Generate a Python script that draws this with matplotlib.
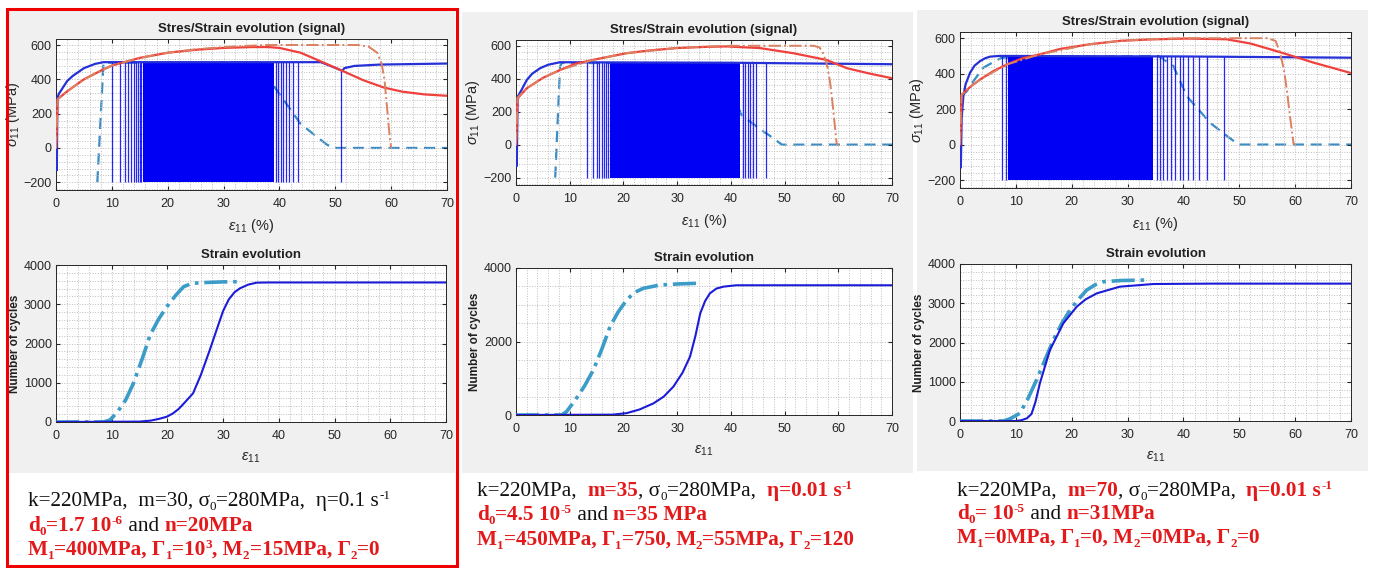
import matplotlib
matplotlib.use('Agg')
import matplotlib.pyplot as plt
from matplotlib.patches import Rectangle
from matplotlib.ticker import MultipleLocator

# ---------------- data ----------------
# panel 1 : stress / strain
p1_load_x = [0, 0.15, 0.25, 0.5, 1, 2, 3, 5, 7, 8.5, 47.4, 49, 51.3, 51.6, 53.4, 58, 70]
p1_load_y = [0, -130, 290, 315, 340, 390, 420, 465, 490, 500, 500, 480, 449, 465, 478, 486, 492]
p1_red_x = [0, 0.3, 0.6, 2, 5, 8, 10, 15, 20, 25, 30, 35, 38, 40, 43.8, 47, 51.3, 55, 58.7, 62, 66, 70]
p1_red_y = [0, 285, 292, 330, 400, 450, 480, 525, 555, 572, 583, 588, 588, 583, 555, 510, 449, 395, 352, 328, 312, 304]
p1_dd_x = [0, 0.3, 2, 5, 8, 10, 15, 20, 25, 30, 34, 38, 54, 56, 57.5, 58.3, 58.8, 59.1, 59.5, 59.8, 60]
p1_dd_y = [0, 285, 330, 400, 450, 480, 525, 555, 575, 588, 595, 600, 600, 590, 555, 490, 400, 295, 150, 50, 0]
p1_dash_x = [7.4, 8.5, 36, 39.6, 43.8, 48.3, 49.5, 70]
p1_dash_y = [-200, 497, 497, 333, 140, 24, 0, 0]
p1_spikes = [10.1, 11.5, 12.3, 12.9, 13.4, 13.9, 14.3, 14.7, 15.0, 15.3,
             39.4, 39.8, 40.2, 40.7, 41.2, 41.8, 42.4, 43.4]
p1_band = (15.6, 39.0)
p1_late_spike = 51.0
p1_late_top = 449

# panel 1 : strain evolution
p1_cyc_dd_x = [0, 8.5, 9.7, 11, 12.5, 13.9, 15.5, 16.9, 18.5, 19.9, 21.5, 22.9, 24.4, 27, 30, 33]
p1_cyc_dd_y = [0, 0, 51, 250, 560, 986, 1620, 2220, 2640, 2938, 3230, 3447, 3533, 3555, 3570, 3575]
p1_cyc_x = [0, 15, 17, 18.5, 19.9, 21, 22, 23, 24.6, 26, 27.6, 29, 30, 31, 32, 33, 34.5, 36, 38, 70]
p1_cyc_y = [0, 10, 35, 80, 135, 220, 330, 480, 731, 1200, 1834, 2420, 2830, 3120, 3300, 3405, 3500, 3550, 3555, 3555]

# panel 2 : stress / strain
p2_load_x = [0, 0.15, 0.3, 1, 2, 3, 4.5, 6, 8.2, 40, 70]
p2_load_y = [0, -130, 290, 330, 392, 430, 464, 485, 500, 497, 488]
p2_red_x = [0, 0.3, 0.6, 2, 5, 8.2, 11, 14.4, 20.6, 25, 29.9, 35, 39.2, 45.4, 51.6, 57.8, 61.6, 66, 70]
p2_red_y = [0, 285, 292, 342, 405, 453, 490, 515, 555, 572, 586, 593, 596, 586, 555, 514, 464, 430, 403]
p2_dd_x = [0, 0.3, 2, 5, 8.2, 14.4, 20.6, 29.9, 35, 40, 55.4, 56.5, 57.2, 58, 58.5, 59, 59.4, 59.7, 60]
p2_dd_y = [0, 285, 342, 405, 453, 515, 555, 586, 595, 600, 600, 590, 555, 470, 372, 230, 100, 5, 0]
p2_dash_x = [7.3, 8.2, 8.5, 38, 42, 45, 47.6, 49.5, 70]
p2_dash_y = [-200, 474, 495, 495, 179, 105, 46, 0, 0]
p2_spikes = [13.2, 14.4, 15.0, 15.5, 16.0, 16.4, 16.8, 17.1,
             42.2, 42.6, 43.1, 43.6, 44.2, 44.7, 46.5]
p2_band = (17.5, 41.7)

# panel 2 : strain evolution
p2_cyc_dd_x = [0, 8.5, 9.4, 11, 12.8, 14.4, 16, 17.5, 19, 20.6, 22, 23.7, 26.8, 30, 33.6]
p2_cyc_dd_y = [0, 0, 90, 400, 800, 1224, 1800, 2403, 2800, 3129, 3330, 3447, 3537, 3565, 3583]
p2_cyc_x = [0, 18, 20.6, 23, 25.6, 27.5, 29.3, 31, 32.4, 33.4, 34.3, 35.2, 36.1, 37.3, 38.6, 41, 70]
p2_cyc_y = [0, 10, 50, 150, 317, 500, 771, 1150, 1588, 2150, 2766, 3100, 3311, 3440, 3492, 3530, 3530]

# panel 3 : stress / strain
p3_load_x = [0, 0.15, 0.3, 0.6, 1.0, 1.8, 2.6, 3.6, 4.5, 5.4, 7, 40, 70]
p3_load_y = [0, -130, 150, 273, 340, 405, 445, 471, 487, 496, 500, 497, 490]
p3_red_x = [0, 0.3, 0.6, 2, 3.6, 6, 8.4, 11, 14.3, 18, 23.3, 28.6, 34, 40.6, 47.7, 52, 55.5, 60, 63.3, 67, 69.8]
p3_red_y = [0, 282, 290, 330, 367, 415, 452, 485, 509, 540, 566, 585, 593, 598, 594, 570, 538, 495, 462, 430, 405]
p3_dd_x = [0, 0.3, 2, 3.6, 8.4, 14.3, 23.3, 28.6, 34, 40, 55, 56.5, 57.3, 58, 58.5, 59, 59.4, 59.7, 60]
p3_dd_y = [0, 282, 330, 367, 452, 509, 566, 585, 595, 600, 600, 585, 519, 420, 311, 180, 80, 8, 0]
p3_dash_x = [0.1, 1.2, 2.4, 4.2, 6.3, 7.5, 35.5, 38.2, 40.6, 44.8, 47.1, 49.5, 50, 70]
p3_dash_y = [270, 300, 358, 434, 471, 490, 500, 443, 273, 122, 65, 8, 0, 0]
p3_spikes = [7.46, 8.2, 35.2, 35.8, 36.4, 37.0, 37.7, 38.5, 39.3, 40.0,
             40.9, 41.7, 42.7, 44.2, 47.3]
p3_band = (8.65, 34.6)

# panel 3 : strain evolution
p3_cyc_dd_x = [0, 7.8, 9, 10.7, 12.2, 13.7, 15.2, 16.7, 18.2, 19.7, 21.2, 22.7, 24.2, 25.7, 29, 33.4]
p3_cyc_dd_y = [0, 0, 60, 195, 580, 1045, 1550, 2064, 2480, 2828, 3100, 3338, 3470, 3550, 3580, 3592]
p3_cyc_x = [0, 10, 11, 12, 12.8, 13.5, 14.3, 16.1, 18.5, 20.9, 22.5, 24.5, 28.6, 34.6, 45, 70]
p3_cyc_y = [0, 0, 20, 70, 180, 480, 960, 1809, 2489, 2913, 3100, 3253, 3422, 3490, 3500, 3500]

# captions
RED = '#E31A1C'
BLK = '#111111'
cap1 = [
    [("k=220MPa,  m=30, σ", BLK, 0, ''), ("0", BLK, 0, 'sub'), ("=280MPa,  η=0.1 s", BLK, 0, ''), ("-1", BLK, 0, 'sup')],
    [("d", RED, 1, ''), ("0", RED, 1, 'sub'), ("=1.7 10", RED, 1, ''), ("-6", RED, 1, 'sup'),
     (" and ", BLK, 0, ''), ("n=20MPa", RED, 1, '')],
    [("M", RED, 1, ''), ("1", RED, 1, 'sub'), ("=400MPa, Γ", RED, 1, ''), ("1", RED, 1, 'sub'),
     ("=10", RED, 1, ''), ("3", RED, 1, 'sup'), (", M", RED, 1, ''), ("2", RED, 1, 'sub'),
     ("=15MPa, Γ", RED, 1, ''), ("2", RED, 1, 'sub'), ("=0", RED, 1, '')],
]
cap2 = [
    [("k=220MPa,  ", BLK, 0, ''), ("m=35", RED, 1, ''), (", σ", BLK, 0, ''), ("0", BLK, 0, 'sub'),
     ("=280MPa,  ", BLK, 0, ''), ("η=0.01 s", RED, 1, ''), ("-1", RED, 1, 'sup')],
    [("d", RED, 1, ''), ("0", RED, 1, 'sub'), ("=4.5 10", RED, 1, ''), ("-5", RED, 1, 'sup'),
     (" and ", BLK, 0, ''), ("n=35 MPa", RED, 1, '')],
    [("M", RED, 1, ''), ("1", RED, 1, 'sub'), ("=450MPa, Γ", RED, 1, ''), ("1", RED, 1, 'sub'),
     ("=750, M", RED, 1, ''), ("2", RED, 1, 'sub'), ("=55MPa, Γ", RED, 1, ''), ("2", RED, 1, 'sub'),
     ("=120", RED, 1, '')],
]
cap3 = [
    [("k=220MPa,  ", BLK, 0, ''), ("m=70", RED, 1, ''), (", σ", BLK, 0, ''), ("0", BLK, 0, 'sub'),
     ("=280MPa,  ", BLK, 0, ''), ("η=0.01 s", RED, 1, ''), ("-1", RED, 1, 'sup')],
    [("d", RED, 1, ''), ("0", RED, 1, 'sub'), ("= 10", RED, 1, ''), ("-5", RED, 1, 'sup'),
     (" and ", BLK, 0, ''), ("n=31MPa", RED, 1, '')],
    [("M", RED, 1, ''), ("1", RED, 1, 'sub'), ("=0MPa, Γ", RED, 1, ''), ("1", RED, 1, 'sub'),
     ("=0, M", RED, 1, ''), ("2", RED, 1, 'sub'), ("=0MPa, Γ", RED, 1, ''), ("2", RED, 1, 'sub'),
     ("=0", RED, 1, '')],
]

# ---------------- figure ----------------
W, H = 1373, 568
fig = plt.figure(figsize=(W / 100, H / 100), dpi=100)
fig.patch.set_facecolor('white')
plt.rcParams['font.family'] = ['Liberation Sans', 'DejaVu Sans']
plt.rcParams['mathtext.fontset'] = 'custom'
plt.rcParams['mathtext.rm'] = 'Liberation Sans'
plt.rcParams['mathtext.it'] = 'Liberation Sans:italic'


def px_rect(x0, y0, x1, y1):
    # pixel box (top-left origin) -> figure fraction
    return [x0 / W, 1 - y1 / H, (x1 - x0) / W, (y1 - y0) / H]


# grey panel backgrounds (behind the axes)
for (x0, y0, x1, y1) in [(9, 11, 455, 473), (462, 12, 913, 473), (917, 10, 1368, 471)]:
    fig.patches.append(Rectangle((x0 / W, 1 - y1 / H), (x1 - x0) / W, (y1 - y0) / H,
                                 transform=fig.transFigure, facecolor='#F0F0F0',
                                 edgecolor='none', zorder=-5))
# red frame around first case
fig.patches.append(Rectangle((7 / W, 1 - 566 / H), 450 / W, 557 / H, transform=fig.transFigure,
                             facecolor='none', edgecolor='#F00000', lw=2.2, zorder=5))

BLUE = '#0000F5'
LOAD = '#2530D8'
REDL = '#F0403C'
DDC = '#DB8060'
DASHC = '#3A8CC6'
CYC_DD = '#3C9CC8'
CYC = '#1C1CD8'


def style(ax, ymin, ymax, ymaj, ymin_step):
    ax.set_facecolor('white')
    ax.set_xlim(0, 70)
    ax.set_ylim(ymin, ymax)
    ax.xaxis.set_major_locator(MultipleLocator(10))
    ax.xaxis.set_minor_locator(MultipleLocator(2))
    ax.yaxis.set_major_locator(MultipleLocator(ymaj))
    ax.yaxis.set_minor_locator(MultipleLocator(ymin_step))
    ax.grid(which='both', ls=':', color='#BDBDBD', lw=0.7)
    ax.tick_params(which='both', direction='in', top=True, right=True,
                   labelsize=9, colors='#262626', length=3)
    ax.tick_params(axis='x', pad=6)
    ax.tick_params(axis='y', pad=3)
    ax.tick_params(which='minor', length=0)
    for s in ax.spines.values():
        s.set_color('#262626')
        s.set_linewidth(0.7)


def stress_panel(rect, load_x, load_y, red_x, red_y, dd_x, dd_y, dash_x, dash_y, spikes, band):
    ax = fig.add_axes(rect)
    style(ax, -245, 635, 200, 40)
    ax.plot(dash_x, dash_y, '--', color=DASHC, lw=1.6, dashes=(5, 3), zorder=1.5)
    ax.fill_between(band, [-200, -200], [500, 500], color=BLUE, lw=0, zorder=2)
    ax.vlines(spikes, -200, 500, color=BLUE, lw=0.9, alpha=0.85, zorder=2)
    ax.plot(load_x, load_y, '-', color=LOAD, lw=1.6, zorder=3)
    ax.plot(red_x, red_y, '-', color=REDL, lw=1.6, zorder=4)
    ax.plot(dd_x, dd_y, '-.', color=DDC, lw=1.4, zorder=4)
    ax.set_title('Stres/Strain evolution (signal)', fontsize=9.5, fontweight='bold', pad=5,
                 color='#202020')
    ax.set_xlabel(r'$\epsilon_{11}$ (%)', fontsize=10.5, color='#262626', labelpad=5)
    ax.set_ylabel(r'$\sigma_{11}$ (MPa)', fontsize=10.5, color='#262626', labelpad=1)
    return ax


def cycle_panel(rect, dd_x, dd_y, x, y, ymaj, ymin_step):
    ax = fig.add_axes(rect)
    style(ax, 0, 4000, ymaj, ymin_step)
    ax.plot(dd_x, dd_y, '-.', color=CYC_DD, lw=2.6, zorder=3)
    ax.plot(x, y, '-', color=CYC, lw=1.5, zorder=4)
    ax.set_title('Strain evolution', fontsize=9.5, fontweight='bold', pad=5, color='#202020')
    ax.set_xlabel(r'$\epsilon_{11}$', fontsize=10.5, color='#262626', labelpad=6)
    ax.set_ylabel('Number of cycles', fontsize=8.5, fontweight='bold', color='#202020', labelpad=2)
    return ax


stress_panel(px_rect(56, 39, 447, 190), p1_load_x, p1_load_y, p1_red_x, p1_red_y,
             p1_dd_x, p1_dd_y, p1_dash_x, p1_dash_y, p1_spikes, p1_band) \
    .vlines([p1_late_spike], -200, p1_late_top, color=BLUE, lw=0.9, alpha=0.85, zorder=2)
stress_panel(px_rect(516, 40, 892, 185), p2_load_x, p2_load_y, p2_red_x, p2_red_y,
             p2_dd_x, p2_dd_y, p2_dash_x, p2_dash_y, p2_spikes, p2_band)
stress_panel(px_rect(960, 32, 1351, 188), p3_load_x, p3_load_y, p3_red_x, p3_red_y,
             p3_dd_x, p3_dd_y, p3_dash_x, p3_dash_y, p3_spikes, p3_band)

cycle_panel(px_rect(56, 265, 446, 422), p1_cyc_dd_x, p1_cyc_dd_y, p1_cyc_x, p1_cyc_y, 1000, 200)
cycle_panel(px_rect(516, 268, 892, 415), p2_cyc_dd_x, p2_cyc_dd_y, p2_cyc_x, p2_cyc_y, 2000, 500)
cycle_panel(px_rect(960, 264, 1351, 421), p3_cyc_dd_x, p3_cyc_dd_y, p3_cyc_x, p3_cyc_y, 1000, 200)

# ---------------- captions (mixed colours / weights) ----------------
renderer = fig.canvas.get_renderer()
FS = 15.3


def caption(lines, x0, baselines):
    for segs, yb in zip(lines, baselines):
        x = x0
        for txt, col, bold, pos in segs:
            size = FS * 0.62 if pos else FS
            dy = {'': 0, 'sub': -4, 'sup': 7}[pos]
            t = fig.text(x / W, 1 - (yb - dy) / H, txt, fontsize=size, color=col,
                         fontweight='bold' if bold else 'normal',
                         family=['Liberation Serif', 'DejaVu Serif'], va='baseline', ha='left')
            x += t.get_window_extent(renderer).width


caption(cap1, 28, [506, 531, 555])
caption(cap2, 477, [496, 520, 545])
caption(cap3, 957, [496, 519, 543])

fig.savefig('out.png', dpi=100, facecolor='white')
